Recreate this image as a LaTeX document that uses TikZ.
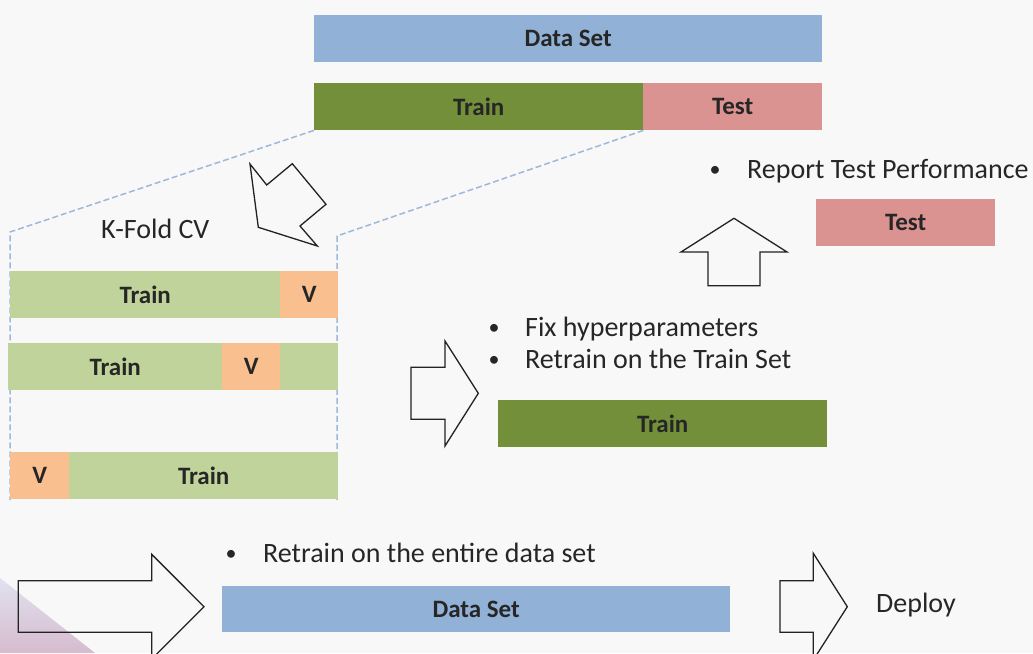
\documentclass[tikz,border=0pt]{standalone}
\usepackage{fontspec}
\setmainfont{Carlito}
\definecolor{bgc}{HTML}{F8F8F8}
\definecolor{txt}{HTML}{262626}
\definecolor{dsblue}{HTML}{92B1D7}
\definecolor{dkgreen}{HTML}{738F3A}
\definecolor{tpink}{HTML}{DA9391}
\definecolor{ltgreen}{HTML}{C0D39A}
\definecolor{vorange}{HTML}{F9BF8F}
\definecolor{cvblue}{HTML}{9DB9DA}
\definecolor{arrowc}{HTML}{222222}
\definecolor{lav}{HTML}{DCDCEE}
\definecolor{mauve}{HTML}{CDADC4}
\begin{document}
\begin{tikzpicture}[x=1pt,y=-1pt,
  bar/.style={inner sep=0pt, anchor=north west, text=txt,
    font=\fontsize{25}{30}\selectfont\bfseries},
  lbl/.style={text=txt, font=\fontsize{28}{33}\selectfont, inner sep=0pt},
  bul/.style={text=txt, font=\fontsize{22}{26}\selectfont, inner sep=0pt, anchor=base},
  blk/.style={draw=arrowc, line width=1.3pt, line join=miter},
  cv/.style={draw=cvblue, line width=1.5pt, dash pattern=on 6pt off 3pt}]
\fill[bgc] (0,0) rectangle (1033,653);
\useasboundingbox (0,0) rectangle (1033,653);
\shade[top color=lav, bottom color=mauve, opacity=0.8] (0,578) -- (95,653) -- (0,653) -- cycle;

% top bars
\node[bar, fill=dsblue, minimum width=508pt, minimum height=47pt] (ds) at (314,15) {Data Set};
\node[bar, fill=dkgreen, minimum width=329pt, minimum height=47pt] (tr) at (314,83) {Train};
\node[bar, fill=tpink, minimum width=179pt, minimum height=47pt] (te) at (643,83) {Test};

% K-fold dashed frame
\coordinate (kl) at (10,232);
\coordinate (klb) at (10,500);
\coordinate (kr) at (337,236);
\coordinate (krb) at (337,500);
\draw[cv] (tr.south west) -- (kl) -- (klb);
\draw[cv] (tr.south east) -- (kr) -- (krb);

\node[lbl, anchor=base west] (kf) at (101,238) {K-Fold CV};
\draw[blk] (250,164) -- (266.7,185) -- (292.3,163.7) -- (326,204.3) -- (300,226) -- (317.3,246) -- (258.3,227.3) -- cycle;

% folds
\node[bar, fill=ltgreen, minimum width=270pt, minimum height=47pt] (f1t) at (10,271) {Train};
\node[bar, fill=vorange, minimum width=58pt, minimum height=47pt] (f1v) at (280,271) {V};
\node[bar, fill=ltgreen, minimum width=214pt, minimum height=47pt] (f2t) at (8,343) {Train};
\node[bar, fill=vorange, minimum width=58pt, minimum height=47pt] (f2v) at (222,343) {V};
\node[bar, fill=ltgreen, minimum width=58pt, minimum height=47pt] (f2r) at (280,343) {};
\node[bar, fill=vorange, minimum width=59pt, minimum height=47pt] (f3v) at (10,452) {V};
\node[bar, fill=ltgreen, minimum width=269pt, minimum height=47pt] (f3t) at (69,452) {Train};

% middle
\draw[blk] (478.3,393.3) -- (445,341) -- (445,367.3) -- (411,367.3) -- (411,419.3) -- (445,419.3) -- (445,446) -- cycle;
\node[bul] (bu2) at (494,334) {•};
\node[lbl, anchor=base west] (t2) at (525,336) {Fix hyperparameters};
\node[bul] (bu3) at (494,366) {•};
\node[lbl, anchor=base west] (t3) at (525,368) {Retrain on the Train Set};
\node[bar, fill=dkgreen, minimum width=329pt, minimum height=47pt] (tr2) at (498,400) {Train};

% upper right
\draw[blk] (734,218.3) -- (787,252) -- (760,252) -- (760,285.7) -- (708,285.7) -- (708,252) -- (681,252) -- cycle;
\node[bul] (bu1) at (715,176) {•};
\node[lbl, anchor=base west] (t1) at (747,178) {Report Test Performance};
\node[bar, fill=tpink, minimum width=179pt, minimum height=47pt] (te2) at (816,199) {Test};

% bottom
\draw[blk] (204,606.7) -- (151.7,554.3) -- (151.7,580.7) -- (18.3,580.7) -- (18.3,632.3) -- (151.7,632.3) -- (151.7,659) -- cycle;
\node[bul] (bu4) at (231,560) {•};
\node[lbl, anchor=base west] (t4) at (263,562) {Retrain on the entire data set};
\node[bar, fill=dsblue, minimum width=508pt, minimum height=46pt] (ds2) at (222,586) {Data Set};
\draw[blk] (847.3,606.7) -- (813.3,553.3) -- (813.3,580.7) -- (780,580.7) -- (780,632.3) -- (813.3,632.3) -- (813.3,660) -- cycle;
\node[lbl, anchor=base west] (dep) at (876,612) {Deploy};
\end{tikzpicture}
\end{document}
